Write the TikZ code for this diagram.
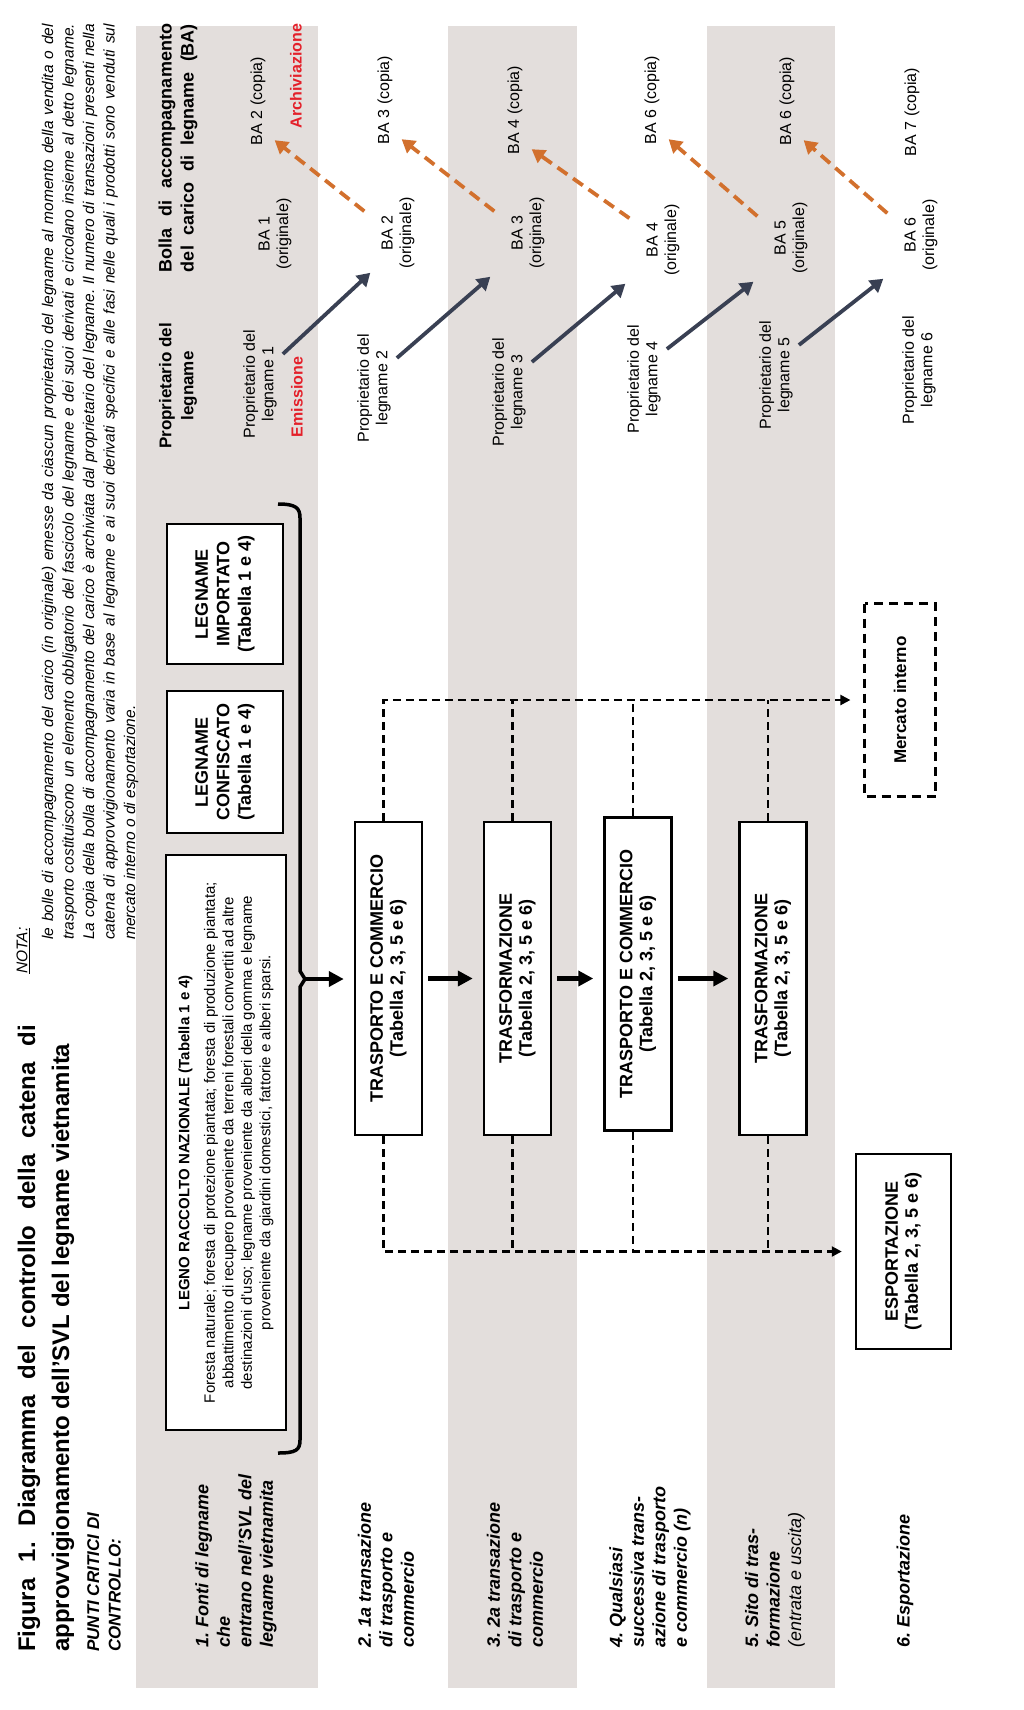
\documentclass[tikz,border=0pt]{standalone}
\usepackage{fontspec}
\setmainfont{Liberation Sans}
\usetikzlibrary{arrows.meta}
\frenchspacing

\definecolor{bandgray}{HTML}{E3DEDC}
\definecolor{docnavy}{HTML}{394053}
\definecolor{copyorange}{HTML}{D2702D}
\definecolor{alertred}{HTML}{E4202A}

\tikzset{
  band/.style={fill=bandgray},
  fase/.style={rotate=90, anchor=west, align=left, inner sep=0pt,
    font=\bfseries\itshape\fontsize{18}{21.5}\selectfont},
  srcbox/.style={draw, fill=white, line width=2.5pt, rotate=90, align=center,
    inner sep=0pt, font=\bfseries\fontsize{18}{21.5}\selectfont},
  stagebox/.style={draw, fill=white, line width=2.5pt, rotate=90, align=center,
    inner sep=0pt, minimum width=313pt, minimum height=67pt,
    font=\bfseries\fontsize{18}{20}\selectfont},
  doc/.style={rotate=90, align=center, inner sep=1pt,
    font=\fontsize{16}{18.5}\selectfont},
  hdr/.style={rotate=90, align=center, inner sep=0pt,
    font=\bfseries\fontsize{18}{22}\selectfont},
  alert/.style={rotate=90, inner sep=0pt, text=alertred,
    font=\bfseries\fontsize{16}{19}\selectfont},
  flow/.style={line width=4.5pt, -{Triangle[length=15pt,width=15pt]},
    shorten <=5pt, shorten >=10pt},
  dashlink/.style={line width=2.2pt, dash pattern=on 8pt off 5pt},
  dasharrow/.style={dashlink, -{Triangle[length=10pt,width=10pt]}, shorten >=13pt},
  issue/.style={draw=docnavy, line width=3.8pt, -{Triangle[length=13pt,width=15pt]}},
  archive/.style={draw=copyorange, line width=3.8pt, dash pattern=on 12pt off 7pt,
    -{Triangle[length=13pt,width=15pt]}}
}

\begin{document}
\begin{tikzpicture}[x=1pt, y=-1pt]
\useasboundingbox (0,0) rectangle (1024,1710);

% bande
\fill[band] (136,26) rectangle (318,1688);
\fill[band] (448,26) rectangle (577,1688);
\fill[band] (707,26) rectangle (835,1688);

% titolo e nota
\node[fase, text width=627pt, align=justify, font=\bfseries\fontsize{24}{34}\selectfont] (titolo) at (46,1652)
  {Figura 1. Diagramma del controllo della catena di\linebreak approvvigionamento dell'SVL del legname vietnamita};
\node[fase, font=\bfseries\itshape\fontsize{17}{21.5}\selectfont] (punti) at (104,1652) {PUNTI CRITICI DI\\CONTROLLO:};
\node[fase, font=\itshape\fontsize{15.5}{20.5}\selectfont] (notatit) at (23,974) {\underline{NOTA:}};
\node[fase, text width=916pt, align=justify, font=\itshape\fontsize{15.5}{20.5}\selectfont] (nota) at (90,940)
  {le bolle di accompagnamento del carico (in originale) emesse da ciascun proprietario del legname al momento della vendita o del\linebreak
   trasporto costituiscono un elemento obbligatorio del fascicolo del legname e dei suoi derivati e circolano insieme al detto legname.\linebreak
   La copia della bolla di accompagnamento del carico è archiviata dal proprietario del legname. Il numero di transazioni presenti nella\linebreak
   catena di approvvigionamento varia in base al legname e ai suoi derivati specifici e alle fasi nelle quali i prodotti sono venduti sul\linebreak
   mercato interno o di esportazione.};

% punti critici
\node[fase] (fase1) at (236,1648) {1. Fonti di legname\\che\\entrano nell'SVL del\\legname vietnamita};
\node[fase] (fase2) at (386,1648) {2.\ 1a transazione\\di trasporto e\\commercio};
\node[fase] (fase3) at (515,1648) {3.\ 2a transazione\\di trasporto e\\commercio};
\node[fase] (fase4) at (650,1648) {4. Qualsiasi\\successiva trans-\\azione di trasporto\\e commercio (\textit{n})};
\node[fase] (fase5) at (775,1648) {5. Sito di tras-\\formazione\\{\mdseries(entrata e uscita)}};
\node[fase] (fase6) at (905,1648) {6. Esportazione};

% fonti di legname
\node[srcbox, minimum width=575pt, minimum height=120pt, font=\fontsize{15}{18.5}\selectfont] (nazionale) at (226,1142.5)
  {\textbf{LEGNO RACCOLTO NAZIONALE (Tabella 1 e 4)}\\[7pt]
   Foresta naturale; foresta di protezione piantata; foresta di produzione piantata;\\
   abbattimento di recupero proveniente da terreni forestali convertiti ad altre\\
   destinazioni d'uso; legname proveniente da alberi della gomma e legname\\
   proveniente da giardini domestici, fattorie e alberi sparsi.};
\node[srcbox, minimum width=142pt, minimum height=116pt] (confiscato) at (225,762) {LEGNAME\\CONFISCATO\\(Tabella 1 e 4)};
\node[srcbox, minimum width=140pt, minimum height=116pt] (importato) at (225,594) {LEGNAME\\IMPORTATO\\(Tabella 1 e 4)};
\draw[line width=3.5pt] (278,504) .. controls (296,504) and (300,508) .. (300,518) -- (300,971) -- (305,979)
  -- (300,987) -- (300,1440) .. controls (300,1450) and (296,1453) .. (278,1453);
\coordinate (punta) at (305,979);

% fasi della catena
\node[stagebox] (tc1) at (388.5,978.5) {TRASPORTO E COMMERCIO\\(Tabella 2, 3, 5 e 6)};
\node[stagebox] (tr1) at (517.5,978.5) {TRASFORMAZIONE\\(Tabella 2, 3, 5 e 6)};
\node[stagebox] (tc2) at (638,974) {TRASPORTO E COMMERCIO\\(Tabella 2, 3, 5 e 6)};
\node[stagebox] (tr2) at (773,978.5) {TRASFORMAZIONE\\(Tabella 2, 3, 5 e 6)};
\node[stagebox, dash pattern=on 9pt off 6pt, line width=2.2pt, minimum width=193pt, minimum height=71pt,
  font=\bfseries\fontsize{17}{20}\selectfont] (interno) at (900,700) {Mercato interno};
\node[stagebox, minimum width=195pt, minimum height=95pt] (export) at (903.5,1251.5) {ESPORTAZIONE\\(Tabella 2, 3, 5 e 6)};

\draw[flow, shorten <=0pt] (punta) -- (punta -| tc1.north);
\draw[flow] (tc1.south) -- (tr1.north);
\draw[flow] (tr1.south) -- (tr1.south -| tc2.north);
\draw[flow] (tr1.south -| tc2.south) -- (tr2.north);

% mercato interno / esportazione
\draw[dasharrow] ([xshift=-5pt]tc1.east) |- (interno.north);
\draw[dashlink] ([xshift=-5pt]tr1.east) -- ([xshift=-5pt]tr1.east |- interno.north);
\draw[dashlink] ([xshift=-5pt]tc2.east) -- ([xshift=-5pt]tc2.east |- interno.north);
\draw[dashlink] ([xshift=-5pt]tr2.east) -- ([xshift=-5pt]tr2.east |- interno.north);
\draw[dasharrow] ([xshift=-5pt]tc1.west) |- (export.north);
\draw[dashlink] ([xshift=-5pt]tr1.west) -- ([xshift=-5pt]tr1.west |- export.north);
\draw[dashlink] ([xshift=-5pt]tc2.west) -- ([xshift=-5pt]tc2.west |- export.north);
\draw[dashlink] ([xshift=-5pt]tr2.west) -- ([xshift=-5pt]tr2.west |- export.north);

% proprietari e bolle
\node[hdr, font=\bfseries\fontsize{17}{22}\selectfont] (hprop) at (178,386) {Proprietario del\\legname};
\node[hdr] (hbolla) at (178,148)
  {\makebox[248pt][s]{Bolla di accompagnamento}\\\makebox[248pt][s]{del carico di legname (BA)}};

\node[doc] (prop1) at (260,384) {Proprietario del\\legname 1};
\node[doc] (prop2) at (374,388) {Proprietario del\\legname 2};
\node[doc] (prop3) at (509,392) {Proprietario del\\legname 3};
\node[doc] (prop4) at (644,379) {Proprietario del\\legname 4};
\node[doc] (prop5) at (776,375) {Proprietario del\\legname 5};
\node[doc] (prop6) at (919,370) {Proprietario del\\legname 6};

\node[doc] (ba1) at (275,234) {BA 1\\(originale)};
\node[doc] (ba2) at (398,233) {BA 2\\(originale)};
\node[doc] (ba3) at (528,233) {BA 3\\(originale)};
\node[doc] (ba4) at (663,240) {BA 4\\(originale)};
\node[doc] (ba5) at (791,238) {BA 5\\(originale)};
\node[doc] (ba6) at (921,235) {BA 6\\(originale)};

\node[doc] (copia2) at (258,101) {BA 2 (copia)};
\node[doc] (copia3) at (385,100) {BA 3 (copia)};
\node[doc] (copia4) at (515,110) {BA 4 (copia)};
\node[doc] (copia6a) at (652,100) {BA 6 (copia)};
\node[doc] (copia6b) at (787,101) {BA 6 (copia)};
\node[doc] (copia7) at (912,112) {BA 7 (copia)};

\node[alert] (emissione) at (297,397) {Emissione};
\node[alert] (archiviazione) at (296,76) {Archiviazione};

\draw[issue] ([shift={(5pt,30pt)}]prop1.south) -- ([shift={(-10pt,-3pt)}]ba2.north west);
\draw[issue] ([shift={(5pt,30pt)}]prop2.south) -- ([shift={(-20pt,-7pt)}]ba3.north west);
\draw[issue] ([shift={(5pt,30pt)}]prop3.south) -- ([shift={(-20pt,-7pt)}]ba4.north west);
\draw[issue] ([shift={(5pt,30pt)}]prop4.south) -- ([shift={(-20pt,-7pt)}]ba5.north west);
\draw[issue] ([shift={(5pt,30pt)}]prop5.south) -- ([shift={(-20pt,-7pt)}]ba6.north west);

\draw[archive] ([shift={(-16pt,-15pt)}]ba2.north east) -- ([shift={(8pt,6pt)}]copia2.south west);
\draw[archive] ([shift={(-16pt,-15pt)}]ba3.north east) -- ([shift={(8pt,6pt)}]copia3.south west);
\draw[archive] ([shift={(-16pt,-15pt)}]ba4.north east) -- ([shift={(8pt,6pt)}]copia4.south west);
\draw[archive] ([shift={(-16pt,-15pt)}]ba5.north east) -- ([shift={(8pt,6pt)}]copia6a.south west);
\draw[archive] ([shift={(-16pt,-15pt)}]ba6.north east) -- ([shift={(8pt,6pt)}]copia6b.south west);
\end{tikzpicture}
\end{document}
